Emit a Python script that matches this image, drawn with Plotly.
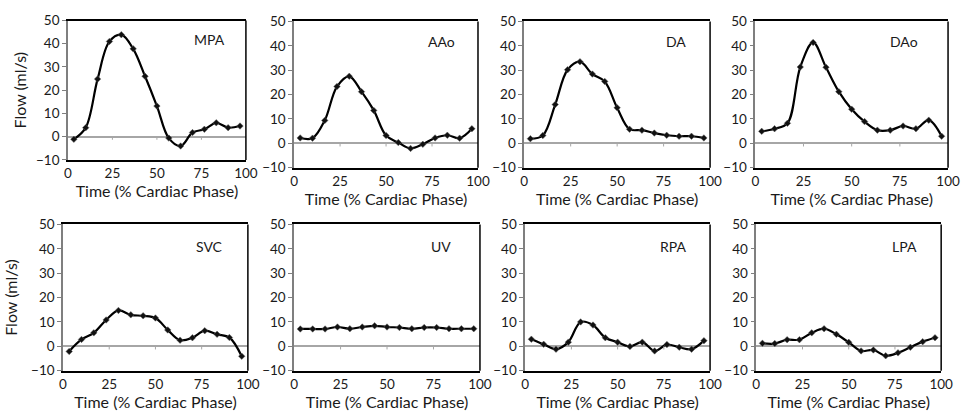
import plotly.graph_objects as go

# ---------------- data ----------------
time_pct = [3.33, 10, 16.67, 23.33, 30, 36.67, 43.33, 50, 56.67, 63.33, 70, 76.67, 83.33, 90, 96.67]

vessels = ["MPA", "AAo", "DA", "DAo", "SVC", "UV", "RPA", "LPA"]

mpa = [-1.1, 3.9, 24.8, 41.0, 43.9, 37.8, 26.0, 13.2, -0.6, -4.0, 1.8, 3.2, 6.0, 3.9, 4.6]
aao = [2.2, 2.1, 9.4, 23.3, 27.5, 21.2, 13.5, 3.2, 0.3, -2.1, -0.4, 2.2, 3.3, 2.1, 6.0]
da = [1.9, 3.2, 15.9, 30.2, 33.5, 28.4, 25.4, 14.6, 5.8, 5.4, 4.2, 3.3, 2.9, 2.9, 2.2]
dao = [4.9, 6.0, 8.2, 31.3, 41.4, 31.2, 21.2, 14.0, 8.9, 5.4, 5.4, 7.1, 6.0, 9.5, 2.9]
svc = [-2.1, 2.8, 5.5, 10.8, 14.7, 12.9, 12.5, 11.6, 6.7, 2.5, 3.5, 6.4, 4.9, 3.6, -4.1]
uv = [7.1, 7.1, 7.1, 7.9, 7.2, 7.9, 8.4, 7.9, 7.7, 7.2, 7.7, 7.7, 7.2, 7.2, 7.2]
rpa = [2.9, 0.8, -1.2, 1.7, 10.0, 8.7, 3.5, 1.7, -0.1, 1.7, -1.9, 0.7, -0.4, -1.2, 2.3]
lpa = [1.2, 1.1, 2.7, 2.7, 5.5, 7.2, 4.9, 1.6, -1.9, -1.5, -3.9, -2.7, -0.4, 1.9, 3.5]

flows = [mpa, aao, da, dao, svc, uv, rpa, lpa]

x_ticks = [0, 25, 50, 75, 100]
y_ticks = [-10, 0, 10, 20, 30, 40, 50]

# ---------------- layout geometry (pixels: left, right, top, bottom) ----------------
W, H = 963, 420
boxes = [
    (65, 246, 13, 158),
    (295, 482, 14, 166),
    (529, 718, 14, 166),
    (764, 960, 14, 166),
    (60, 248, 225, 377),
    (295, 484, 225, 377),
    (530, 718, 225, 377),
    (765, 953, 225, 377),
]
label_right_px = [19, 21, 22, 29, 23, 27, 22, 23]
label_top_px = [20, 21, 21, 21, 23, 23, 23, 23]

FONT = "Lato, 'Open Sans', sans-serif"
TXT = "#1a1a1a"
fig = go.Figure()

shapes = []
annotations = []
for i, (name, vals, box) in enumerate(zip(vessels, flows, boxes)):
    n = "" if i == 0 else str(i + 1)
    l, r, t, b = box
    fig.add_trace(go.Scatter(
        x=time_pct, y=vals, mode="lines+markers",
        line=dict(color="black", width=2.2, shape="spline", smoothing=1),
        marker=dict(symbol="diamond", size=5, color="#111111",
                    line=dict(color="#666666", width=0.5)),
        xaxis="x" + n, yaxis="y" + n, showlegend=False, name=name,
    ))
    xd = [l / W, r / W]
    yd = [1 - b / H, 1 - t / H]
    fig.layout["xaxis" + n] = dict(
        domain=xd, range=[0, 100], tickvals=x_ticks, ticktext=[str(v) for v in x_ticks],
        anchor="y" + n, showgrid=False, zeroline=False,
        showline=True, linecolor="black", linewidth=1.5, mirror=True,
        ticks="", ticklen=0, ticklabelstandoff=0,
        tickfont=dict(family=FONT, size=13.5, color=TXT),
        title=dict(text="Time (% Cardiac Phase)", standoff=0,
                   font=dict(family=FONT, size=16, color=TXT)),
    )
    ya = dict(
        domain=yd, range=[-10, 50], tickvals=y_ticks, anchor="x" + n,
        showgrid=False, zeroline=True, zerolinecolor="#a6a6a6", zerolinewidth=1.5,
        showline=True, linecolor="#7f7f7f", linewidth=1.5,
        ticks="outside", ticklen=4, tickcolor="#7f7f7f", tickwidth=1,
        tickfont=dict(family=FONT, size=13.5, color=TXT),
    )
    if i in (0, 4):
        ya["title"] = dict(text="Flow (ml/s)", standoff=5 if i == 0 else 9,
                           font=dict(family=FONT, size=16, color=TXT))
    fig.layout["yaxis" + n] = ya

    # right border of the plot frame
    shapes.append(dict(type="line", xref=f"x{n} domain", yref=f"y{n} domain",
                       x0=1, x1=1, y0=0, y1=1, line=dict(color="black", width=1.5)))
    # small tick marks on the zero line
    for tv in x_ticks[1:-1]:
        shapes.append(dict(type="line", xref="x" + n, yref="y" + n,
                           x0=tv, x1=tv, y0=0, y1=-1.3,
                           line=dict(color="#a6a6a6", width=1)))
    annotations.append(dict(
        text=name, xref=f"x{n} domain", yref=f"y{n} domain",
        x=1 - label_right_px[i] / (r - l), y=1 - label_top_px[i] / (b - t),
        xanchor="right", yanchor="middle", showarrow=False,
        font=dict(family=FONT, size=14, color=TXT),
    ))

fig.update_layout(
    width=W, height=H, margin=dict(l=0, r=0, t=0, b=0),
    paper_bgcolor="white", plot_bgcolor="white",
    shapes=shapes, annotations=annotations,
)

fig.write_html(
    "out.html",
    config={"displayModeBar": False},
    post_script="document.body.style.margin='0';document.body.style.overflow='hidden';",
)
